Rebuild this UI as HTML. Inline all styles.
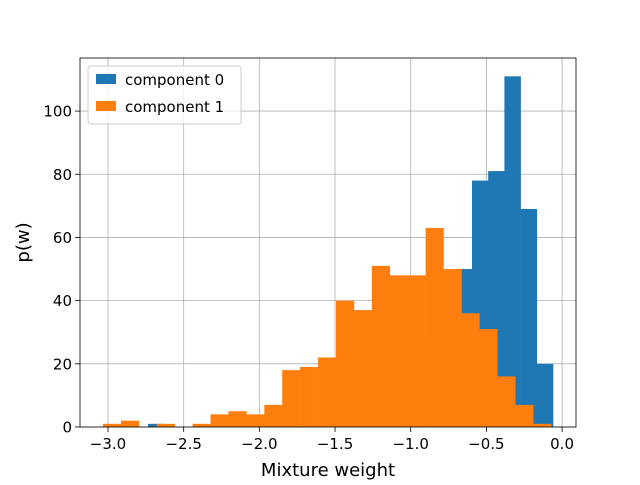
<!DOCTYPE html>
<html><head><meta charset="utf-8"><style>
body{margin:0;background:#fff;}
svg text{font-family:"DejaVu Sans","Liberation Sans",sans-serif;fill:#000;}
</style></head><body>
<svg width="640" height="480" viewBox="0 0 640 480" id="chart">
<rect x="0" y="0" width="640" height="480" fill="#fff"/>
<g id="grid"></g><g id="bars"></g><g id="axes"></g>
</svg>
<script>
const orangeCounts=[1,2,0,1,0,1,4,5,4,7,18,19,22,40,37,51,48,48,63,50,36,31,16,7,1];
const orangeRange=[-3.033,-0.073];
const blueCounts=[1,0,0,0,0,0,0,0,0,0,1,2,3,5,8,12,18,28,40,50,78,81,111,69,20];
const blueRange=[-2.736,-0.06];
const xTicks=[-3.0,-2.5,-2.0,-1.5,-1.0,-0.5,0.0];
const yTicks=[0,20,40,60,80,100];
const L=80,R=576,T=58,B=427;
const xmin=-3.185,xmax=0.092,ymin=0,ymax=116.8;
const xs=v=>L+(v-xmin)/(xmax-xmin)*(R-L);
const ys=v=>B-(v-ymin)/(ymax-ymin)*(B-T);
const NS='http://www.w3.org/2000/svg';
function mk(tag,attrs,parent){const e=document.createElementNS(NS,tag);for(const k in attrs)e.setAttribute(k,attrs[k]);parent.appendChild(e);return e;}
const grid=document.getElementById('grid'),bars=document.getElementById('bars'),axes=document.getElementById('axes');
function fmt(v){return (v<0?'\u2212':'')+Math.abs(v).toFixed(1);}
xTicks.forEach(t=>{const x=xs(t);
 const g=mk('line',{x1:x,x2:x,y1:T,y2:B,stroke:'#b0b0b0','stroke-width':0.8},grid);
 
 const tk=mk('line',{x1:x,x2:x,y1:B,y2:B+5,stroke:'#000','stroke-width':0.8},axes);
 
 const tx=mk('text',{x:x,y:B+22,'text-anchor':'middle','font-size':15},axes);tx.textContent=fmt(t);
 });
yTicks.forEach(t=>{const y=ys(t);
 const g=mk('line',{x1:L,x2:R,y1:y,y2:y,stroke:'#b0b0b0','stroke-width':0.8},grid);
 
 const tk=mk('line',{x1:L-5,x2:L,y1:y,y2:y,stroke:'#000','stroke-width':0.8},axes);
 
 const tx=mk('text',{x:L-8,y:y+5.5,'text-anchor':'end','font-size':15},axes);tx.textContent=t;
 });
function hist(counts,range,color,name){const w=(range[1]-range[0])/counts.length;
 counts.forEach((c,i)=>{if(!c)return;const x0=xs(range[0]+i*w),x1=xs(range[0]+(i+1)*w);
  const r=mk('rect',{x:x0,y:ys(c),width:x1-x0+0.3,height:ys(0)-ys(c),fill:color},bars);
  });}
hist(blueCounts,blueRange,'#1f77b4','bar-component-0');
hist(orangeCounts,orangeRange,'#ff7f0e','bar-component-1');
const fr=mk('rect',{x:L,y:T,width:R-L,height:B-T,fill:'none',stroke:'#000','stroke-width':0.8},axes);

const xl=mk('text',{x:(L+R)/2,y:476,'text-anchor':'middle','font-size':18},axes);xl.textContent='Mixture weight';

const yl=mk('text',{x:0,y:0,'text-anchor':'middle','font-size':18,transform:`translate(29,${(T+B)/2}) rotate(-90)`},axes);yl.textContent='p(w)';

const lg=mk('g',{},axes);
const lb=mk('rect',{x:88,y:66,width:153,height:58,rx:3,fill:'#fff','fill-opacity':0.8,stroke:'#ccc'},lg);

[['#1f77b4','component 0',74],['#ff7f0e','component 1',101]].forEach(([c,t,y],i)=>{
 const e=mk('g',{},lg);
 const s=mk('rect',{x:96,y:y,width:20,height:10,fill:c},e);
 
 const tx=mk('text',{x:125,y:y+11,'font-size':15},e);tx.textContent=t;
 });
</script>
</body></html>
